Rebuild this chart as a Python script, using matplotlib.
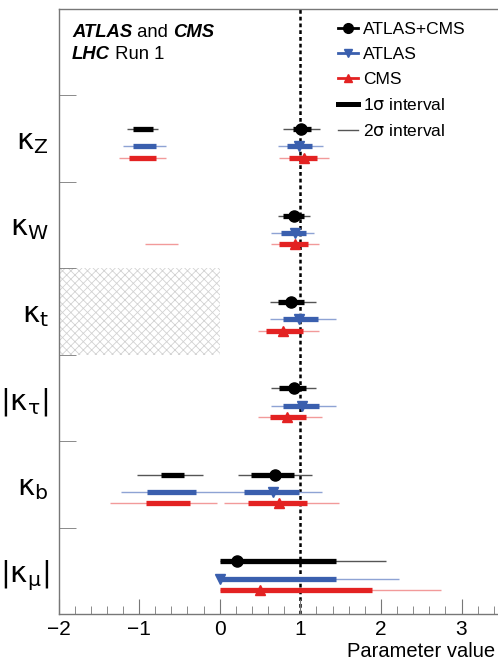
import matplotlib
matplotlib.use('Agg')
import matplotlib.pyplot as plt
from matplotlib.lines import Line2D
from matplotlib.ticker import MultipleLocator

plt.rcParams['font.family'] = ['Liberation Sans', 'DejaVu Sans']
plt.rcParams['mathtext.fontset'] = 'dejavusans'
plt.rcParams['hatch.color'] = '#d2d2d2'
plt.rcParams['hatch.linewidth'] = 0.6

# rows, top to bottom
params = [r'$\mathrm{\kappa}_\mathrm{Z}$', r'$\mathrm{\kappa}_\mathrm{W}$',
          r'$\mathrm{\kappa}_\mathrm{t}$', r'$|\mathrm{\kappa}_\mathrm{\tau}|$',
          r'$\mathrm{\kappa}_\mathrm{b}$', r'$|\mathrm{\kappa}_\mathrm{\mu}|$']

comb_best = [1.01, 0.92, 0.88, 0.92, 0.68, 0.22]
comb_1s = [[(-1.07, -0.83), (0.91, 1.13)], [(0.78, 1.04)], [(0.72, 1.05)],
           [(0.74, 1.07)], [(-0.73, -0.44), (0.39, 0.92)], [(0.0, 1.44)]]
comb_2s = [[(-1.15, -0.76), (0.79, 1.24)], [(0.72, 1.12)], [(0.62, 1.20)],
           [(0.64, 1.20)], [(-1.03, -0.21), (0.23, 1.14)], [(0.0, 2.06)]]

atlas_best = [0.99, 0.93, 0.99, 1.02, 0.66, 0.0]
atlas_1s = [[(-1.08, -0.79), (0.84, 1.15)], [(0.76, 1.07)], [(0.78, 1.22)],
            [(0.79, 1.23)], [(-0.90, -0.30), (0.30, 0.98)], [(0.0, 1.44)]]
atlas_2s = [[(-1.20, -0.67), (0.72, 1.28)], [(0.64, 1.17)], [(0.63, 1.44)],
            [(0.64, 1.44)], [(-1.22, 1.27)], [(0.0, 2.23)]]

cms_best = [1.04, 0.93, 0.78, 0.84, 0.73, 0.50]
cms_1s = [[(-1.13, -0.79), (0.86, 1.21)], [(0.74, 1.09)], [(0.58, 1.03)],
          [(0.62, 1.07)], [(-0.92, -0.37), (0.35, 1.08)], [(0.0, 1.89)]]
cms_2s = [[(-1.25, -0.67), (0.73, 1.35)], [(-0.93, -0.52), (0.64, 1.23)],
          [(0.47, 1.23)], [(0.47, 1.27)], [(-1.36, -0.03), (0.05, 1.48)],
          [(0.0, 2.75)]]

series = [
    # best, 1s, 2s, colour, light colour, marker, offset in row
    (comb_best, comb_1s, comb_2s, 'black', '#555555', 'o', 0.61),
    (atlas_best, atlas_1s, atlas_2s, '#3a5fae', '#8ea3d4', 'v', 0.41),
    (cms_best, cms_1s, cms_2s, '#e32222', '#f29a9a', '^', 0.28),
]

n = len(params)
fig = plt.figure(figsize=(4.98, 6.64), dpi=100)
ax = fig.add_axes([58.5 / 498, 1 - 614 / 664, 1 - 58.5 / 498, 605 / 664])
ax.set_xlim(-2, -2 + 439.5 / 80.6)
ax.set_ylim(0, n + 1)

# excluded region for kappa_t < 0
ax.fill_between([-2, 0], 3, 4, facecolor='none', edgecolor='#d2d2d2',
                hatch='xxxx', linewidth=0)

for best, s1, s2, col, light, mk, off in series:
    for i in range(n):
        y = (n - 1 - i) + off
        for lo, hi in s2[i]:
            ax.hlines(y, lo, hi, color=light, lw=1.0, zorder=2)
        for lo, hi in s1[i]:
            ax.hlines(y, lo, hi, color=col, lw=3.8, zorder=3)
        ax.plot(best[i], y, marker=mk, color=col, ms=8 if mk == 'o' else 7,
                zorder=4, clip_on=False)

ax.axvline(1, color='black', lw=1.8, ls=(0, (1.5, 1.2)), zorder=1)

# axes styling
for s in ['top', 'left', 'bottom']:
    ax.spines[s].set_color('#777777')
    ax.spines[s].set_linewidth(1.0)
ax.spines['right'].set_visible(False)

ax.xaxis.set_major_locator(MultipleLocator(1))
ax.xaxis.set_minor_locator(MultipleLocator(0.2))
ax.tick_params(axis='x', which='major', direction='in', length=11,
               color='#777777', labelsize=15, pad=4, top=False)
ax.tick_params(axis='x', which='minor', direction='in', length=5.5,
               color='#777777', top=False)
ax.set_xticks([-2, -1, 0, 1, 2, 3])
ax.set_xticklabels(['\u22122', '\u22121', '0', '1', '2', '3'])

ax.set_yticks([i + 0.5 for i in range(n)])
ax.set_yticklabels(params[::-1], fontsize=21)
ax.set_yticks(list(range(1, n + 1)), minor=True)
ax.tick_params(axis='y', which='major', length=0, pad=7)
ax.tick_params(axis='y', which='minor', direction='in', length=12,
               color='#777777')

fig.text(347 / 498, 1 - 657 / 664, 'Parameter value', fontsize=14.5,
         ha='left', va='baseline')

# experiment label
x0 = (72 - 58.5) / 439.5
t1 = ax.text(x0, 1 - 28 / 605, 'ATLAS', transform=ax.transAxes,
             fontsize=13.3, fontweight='bold', fontstyle='italic', va='baseline')
t2 = ax.annotate(' and ', xy=(1, 0), xycoords=t1, fontsize=13.3, va='bottom')
ax.annotate('CMS', xy=(1, 0), xycoords=t2, fontsize=13.3, fontweight='bold',
            fontstyle='italic', va='bottom')
t4 = ax.text(x0, 1 - 50 / 605, 'LHC', transform=ax.transAxes,
             fontsize=13.3, fontweight='bold', fontstyle='italic', va='baseline')
ax.annotate(' Run 1', xy=(1, 0), xycoords=t4, fontsize=13.3, va='bottom')

handles = [
    Line2D([], [], color='black', marker='o', ms=7, lw=2),
    Line2D([], [], color=series[1][3], marker='v', ms=6, lw=2),
    Line2D([], [], color=series[2][3], marker='^', ms=6, lw=2),
    Line2D([], [], color='black', lw=3.6),
    Line2D([], [], color='#555555', lw=1.0),
]
labels = ['ATLAS+CMS', 'ATLAS', 'CMS', r'1$\mathrm{\sigma}$ interval',
          r'2$\mathrm{\sigma}$ interval']
ax.legend(handles, labels, loc='upper left',
          bbox_to_anchor=((335 - 58.5) / 439.5, 1 - 9 / 605), frameon=False,
          fontsize=12.5, handlelength=1.1, handletextpad=0.3,
          labelspacing=0.58, borderpad=0.2, borderaxespad=0)

fig.savefig('out.png', dpi=100)
